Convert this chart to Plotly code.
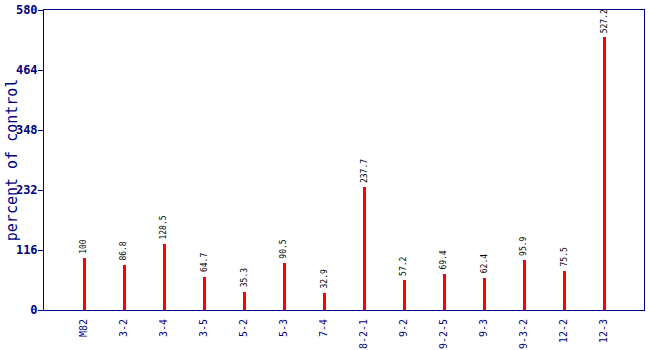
import plotly.graph_objects as go

categories = ["M82", "3-2", "3-4", "3-5", "5-2", "5-3", "7-4", "8-2-1",
              "9-2", "9-2-5", "9-3", "9-3-2", "12-2", "12-3"]
values = [100, 86.8, 128.5, 64.7, 35.3, 90.5, 32.9, 237.7,
          57.2, 69.4, 62.4, 95.9, 75.5, 527.2]
y_ticks = [0, 116, 232, 348, 464, 580]

navy = "#000080"
xs = list(range(len(categories)))

fig = go.Figure()
fig.add_trace(go.Bar(
    x=xs, y=values, width=0.075,
    marker=dict(color="#ff0000", line=dict(width=0)),
    hoverinfo="skip",
))

for x, v in zip(xs, values):
    fig.add_annotation(
        x=x, y=v, text=f"{v:g}", textangle=-90,
        showarrow=False, xanchor="center", yanchor="bottom", yshift=2,
        font=dict(family="DejaVu Sans Mono", size=8, color="#000000"),
    )

# y-axis title placed as a rotated label left of the tick labels
fig.add_annotation(
    xref="paper", yref="paper", x=-0.053, y=0.5,
    text="percent of control", textangle=-90, showarrow=False,
    xanchor="center", yanchor="middle",
    font=dict(family="DejaVu Sans Mono", size=15, color=navy),
)

fig.update_layout(
    width=650, height=350,
    margin=dict(l=44, r=6, t=10, b=40),
    paper_bgcolor="white", plot_bgcolor="white",
    showlegend=False,
    bargap=0,
)
fig.update_xaxes(
    automargin=False,
    range=[-1, len(categories)], tickmode="array", tickvals=xs,
    ticktext=categories, tickangle=-90,
    tickfont=dict(family="DejaVu Sans Mono", size=10, color=navy),
    showline=True, linecolor=navy, linewidth=1, mirror=True,
    showgrid=False, zeroline=False, ticks="outside", ticklen=4,
    tickcolor="rgba(0,0,0,0)",
)
fig.update_yaxes(
    automargin=False,
    range=[0, 580], tickmode="array", tickvals=y_ticks,
    tickfont=dict(family="DejaVu Sans Mono", size=12, color=navy, weight="bold"),
    ticklabelstandoff=-2,
    showline=True, linecolor=navy, linewidth=1, mirror=True,
    showgrid=False, zeroline=False, ticks="outside", ticklen=5, tickcolor=navy,
)

fig.write_html("out.html")
